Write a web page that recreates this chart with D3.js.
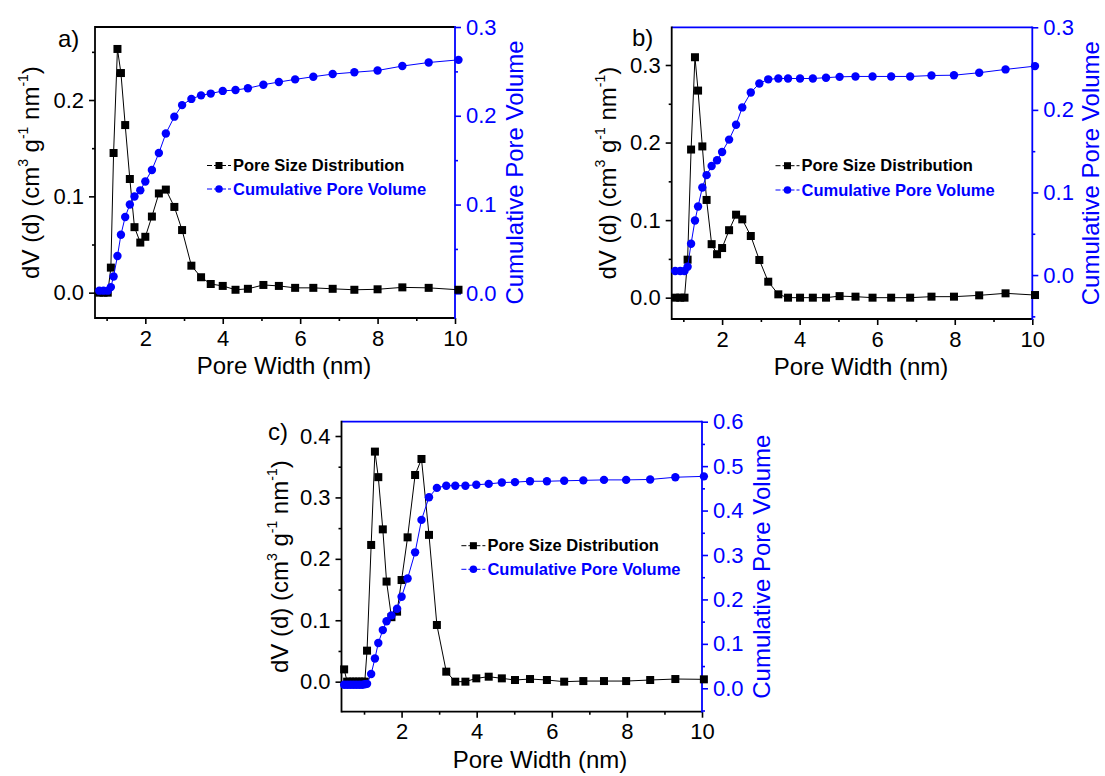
<!DOCTYPE html>
<html>
<head>
<meta charset="utf-8">
<script src="https://cdn.jsdelivr.net/npm/d3@7"></script>
<style>
  body { margin: 0; background: #fff; }
  svg { display: block; }
  text { font-family: Arial, "Liberation Sans", sans-serif; }
</style>
</head>
<body>
<svg id="chart" width="1105" height="776"></svg>
<script>
// pore size data (x in nm)

// panel a
const widthA = [0.81, 0.92, 1.03, 1.11, 1.18, 1.28, 1.37, 1.48, 1.60, 1.72, 1.87, 2.0, 2.17, 2.35, 2.53, 2.75, 2.95,
  3.19, 3.44, 3.69, 4.0, 4.33, 4.65, 5.05, 5.45, 5.87, 6.34, 6.84, 7.40, 8.0, 8.64, 9.32, 10.09];
const psdA = [0, 0, 0, 0.026, 0.145, 0.253, 0.228, 0.174, 0.118, 0.068, 0.052, 0.058, 0.079, 0.103, 0.107, 0.089, 0.065,
  0.028, 0.016, 0.009, 0.007, 0.003, 0.004, 0.008, 0.007, 0.005, 0.005, 0.004, 0.003, 0.0035, 0.0055, 0.005, 0.003];
const cumA = [0.003, 0.003, 0.003, 0.007, 0.019, 0.042, 0.066, 0.086, 0.100, 0.109, 0.116, 0.126, 0.139, 0.158, 0.180, 0.199, 0.212,
  0.219, 0.223, 0.225, 0.228, 0.229, 0.231, 0.235, 0.238, 0.241, 0.244, 0.247, 0.249, 0.251, 0.256, 0.260, 0.263];

// panel b
const widthB = [0.79, 0.92, 1.03, 1.11, 1.20, 1.30, 1.38, 1.49, 1.60, 1.73, 1.87, 2.0, 2.18, 2.36, 2.52, 2.74, 2.96,
  3.19, 3.45, 3.70, 4.01, 4.34, 4.68, 5.03, 5.44, 5.88, 6.36, 6.85, 7.40, 7.98, 8.63, 9.31, 10.07];
const psdB = [0, 0, 0, 0.049, 0.191, 0.310, 0.267, 0.195, 0.126, 0.069, 0.056, 0.064, 0.087, 0.107, 0.101, 0.0795, 0.0486,
  0.0206, 0.0043, 0, 0, 0, 0, 0.002, 0.0013, 0, 0, 0, 0.0013, 0.0013, 0.003, 0.0056, 0.0034];
const cumB = [0.005, 0.005, 0.005, 0.010, 0.038, 0.066, 0.083, 0.106, 0.121, 0.132, 0.139, 0.149, 0.164, 0.182, 0.203, 0.221, 0.232,
  0.237, 0.238, 0.238, 0.238, 0.238, 0.239, 0.240, 0.2405, 0.2405, 0.2405, 0.2405, 0.2416, 0.242, 0.245, 0.249, 0.253];

// panel c
const widthC = [0.47, 0.55, 0.63, 0.71, 0.79, 0.87, 0.95, 1.02, 1.08, 1.19, 1.29, 1.38, 1.50, 1.60, 1.73, 1.88, 2.0, 2.16,
  2.36, 2.53, 2.73, 2.94, 3.19, 3.43, 3.70, 3.99, 4.32, 4.67, 5.02, 5.42, 5.87, 6.33, 6.84, 7.39, 7.98, 8.62, 9.29, 10.05];
const psdC = [0.020, 0, 0, 0, 0, 0, 0, 0, 0.0505, 0.2226, 0.3746, 0.333, 0.248, 0.163, 0.105, 0.114, 0.1655, 0.235,
  0.3365, 0.3626, 0.239, 0.0923, 0.0163, 0, 0, 0.0054, 0.0081, 0.0054, 0.0027, 0.0043, 0.0027, 0, 0.001, 0.001, 0.001, 0.0027, 0.0043, 0.0038];
const cumC = [0.008, 0.008, 0.008, 0.008, 0.008, 0.008, 0.008, 0.009, 0.010, 0.032, 0.067, 0.102, 0.131, 0.151, 0.164, 0.179, 0.206, 0.247,
  0.306, 0.379, 0.430, 0.451, 0.456, 0.456, 0.456, 0.458, 0.460, 0.463, 0.464, 0.466, 0.466, 0.467, 0.468, 0.469, 0.469, 0.470, 0.475, 0.477];

// ticks
const xMajor = [2, 4, 6, 8, 10];
const xMinor = [1, 3, 5, 7, 9];
const seriesNames = ["Pore Size Distribution", "Cumulative Pore Volume"];
const BLUE = "#0000ff";

const svg = d3.select("#chart");

// layout of each panel (pixels measured on the reference)
const panels = [
  { label: "a)", w: widthA, psd: psdA, cum: cumA,
    l: 95, r: 455, t: 27, b: 318, xDom: [0.7, 10],
    yLDom: [-0.0263, 0.2758], yRDom: [-0.0278, 0.3],
    yLMajor: [0, 0.1, 0.2], yLMinor: [0.05, 0.15, 0.25],
    yRMajor: [0, 0.1, 0.2, 0.3], yRMinor: [0.05, 0.15, 0.25],
    topColor: "#000", lab: [58, 47], leg: [207, 165.5, 189],
    xTitleX: 284, yLTitleX: 39, yRTitleX: 523 },
  { label: "b)", w: widthB, psd: psdB, cum: cumB,
    l: 671.7, r: 1032.3, t: 27.3, b: 319, xDom: [0.7, 10],
    yLDom: [-0.0275, 0.3486], yRDom: [-0.0532, 0.3],
    yLMajor: [0, 0.1, 0.2, 0.3], yLMinor: [0.05, 0.15, 0.25],
    yRMajor: [0, 0.1, 0.2, 0.3], yRMinor: [-0.05, 0.05, 0.15, 0.25],
    topColor: BLUE, lab: [632, 46], leg: [775.5, 165.7, 190],
    xTitleX: 861, yLTitleX: 615.5, yRTitleX: 1099 },
  { label: "c)", w: widthC, psd: psdC, cum: cumC,
    l: 341.5, r: 702, t: 421.7, b: 711.7, xDom: [0.4, 10],
    yLDom: [-0.0489, 0.4233], yRDom: [-0.0527, 0.6],
    yLMajor: [0, 0.1, 0.2, 0.3, 0.4], yLMinor: [0.05, 0.15, 0.25, 0.35],
    yRMajor: [0, 0.1, 0.2, 0.3, 0.4, 0.5, 0.6], yRMinor: [-0.05, 0.05, 0.15, 0.25, 0.35, 0.45, 0.55],
    topColor: BLUE, lab: [268, 440], leg: [461.4, 545.7, 569.3],
    xTitleX: 540, yLTitleX: 288, yRTitleX: 770 }
];

function styleAxis(sel, color, fontSize) {
  sel.select(".domain").remove();
  sel.selectAll(".tick line").attr("stroke", color).attr("stroke-width", 1.6);
  sel.selectAll(".tick text").attr("fill", color).style("font-size", fontSize)
    .style("font-family", "Arial, 'Liberation Sans', sans-serif");
}

function drawPanel(p) {
  const g = svg.append("g");
  const x = d3.scaleLinear().domain(p.xDom).range([p.l, p.r]);
  const yL = d3.scaleLinear().domain(p.yLDom).range([p.b, p.t]);
  const yR = d3.scaleLinear().domain(p.yRDom).range([p.b, p.t]);
  const f1 = d3.format(".1f");

  // x axis
  g.append("g").attr("transform", `translate(0,${p.b})`)
    .call(d3.axisBottom(x).tickValues(xMajor).tickSize(6).tickSizeOuter(0).tickPadding(6).tickFormat(d3.format("d")))
    .call(s => styleAxis(s, "#000", "22px"));
  g.append("g").attr("transform", `translate(0,${p.b})`)
    .call(d3.axisBottom(x).tickValues(xMinor).tickSize(3).tickSizeOuter(0).tickFormat(""))
    .call(s => styleAxis(s, "#000", "22px"));

  // left axis
  g.append("g").attr("transform", `translate(${p.l},0)`)
    .call(d3.axisLeft(yL).tickValues(p.yLMajor).tickSize(6).tickSizeOuter(0).tickPadding(5).tickFormat(f1))
    .call(s => styleAxis(s, "#000", "22px"));
  g.append("g").attr("transform", `translate(${p.l},0)`)
    .call(d3.axisLeft(yL).tickValues(p.yLMinor).tickSize(3).tickSizeOuter(0).tickFormat(""))
    .call(s => styleAxis(s, "#000", "22px"));

  // right axis (blue)
  g.append("g").attr("transform", `translate(${p.r},0)`)
    .call(d3.axisRight(yR).tickValues(p.yRMajor).tickSize(6).tickSizeOuter(0).tickPadding(5).tickFormat(f1))
    .call(s => styleAxis(s, BLUE, "22px"));
  g.append("g").attr("transform", `translate(${p.r},0)`)
    .call(d3.axisRight(yR).tickValues(p.yRMinor).tickSize(3).tickSizeOuter(0).tickFormat(""))
    .call(s => styleAxis(s, BLUE, "22px"));

  // frame
  const sw = 1.8;
  g.append("line").attr("x1", p.l).attr("x2", p.r).attr("y1", p.t).attr("y2", p.t)
    .attr("stroke", p.topColor).attr("stroke-width", sw);
  g.append("line").attr("x1", p.l).attr("x2", p.l).attr("y1", p.t - sw / 2).attr("y2", p.b + sw / 2)
    .attr("stroke", "#000").attr("stroke-width", sw);
  g.append("line").attr("x1", p.l).attr("x2", p.r).attr("y1", p.b).attr("y2", p.b)
    .attr("stroke", "#000").attr("stroke-width", sw);
  g.append("line").attr("x1", p.r).attr("x2", p.r).attr("y1", p.t - sw / 2).attr("y2", p.b + sw / 2)
    .attr("stroke", BLUE).attr("stroke-width", sw);

  // pore size distribution (left axis)
  const psdPts = d3.zip(p.w, p.psd);
  g.append("path").datum(psdPts)
    .attr("fill", "none").attr("stroke", "#000").attr("stroke-width", 1)
    .attr("d", d3.line().x(d => x(d[0])).y(d => yL(d[1])));
  g.append("g").selectAll("rect").data(psdPts).join("rect")
    .attr("x", d => x(d[0]) - 4).attr("y", d => yL(d[1]) - 4)
    .attr("width", 8).attr("height", 8).attr("fill", "#000");

  // cumulative pore volume (right axis)
  const cumPts = d3.zip(p.w, p.cum);
  g.append("path").datum(cumPts)
    .attr("fill", "none").attr("stroke", BLUE).attr("stroke-width", 1)
    .attr("d", d3.line().x(d => x(d[0])).y(d => yR(d[1])));
  g.append("g").selectAll("circle").data(cumPts).join("circle")
    .attr("cx", d => x(d[0])).attr("cy", d => yR(d[1]))
    .attr("r", 4.2).attr("fill", BLUE);

  // legend
  const [lx, ly1, ly2] = p.leg;
  const lg = g.append("g");
  lg.append("line").attr("x1", lx).attr("x2", lx + 24).attr("y1", ly1).attr("y2", ly1)
    .attr("stroke", "#000").attr("stroke-width", 1).attr("stroke-dasharray", "5,2");
  lg.append("rect").attr("x", lx + 12 - 3.5).attr("y", ly1 - 3.5).attr("width", 7).attr("height", 7).attr("fill", "#000");
  lg.append("text").attr("x", lx + 26).attr("y", ly1).attr("dy", "0.35em")
    .style("font-size", "16.5px").style("font-weight", "bold").attr("fill", "#000").text(seriesNames[0]);
  lg.append("line").attr("x1", lx).attr("x2", lx + 24).attr("y1", ly2).attr("y2", ly2)
    .attr("stroke", BLUE).attr("stroke-width", 1).attr("stroke-dasharray", "5,2");
  lg.append("circle").attr("cx", lx + 12).attr("cy", ly2).attr("r", 3.8).attr("fill", BLUE);
  lg.append("text").attr("x", lx + 26).attr("y", ly2).attr("dy", "0.35em")
    .style("font-size", "16.5px").style("font-weight", "bold").attr("fill", BLUE).text(seriesNames[1]);

  // panel label
  g.append("text").attr("x", p.lab[0]).attr("y", p.lab[1])
    .style("font-size", "24px").attr("fill", "#000").text(p.label);

  // axis titles
  g.append("text").attr("x", p.xTitleX).attr("y", p.b + 56)
    .attr("text-anchor", "middle").style("font-size", "24px").attr("fill", "#000")
    .text("Pore Width (nm)");

  const cy = (p.t + p.b) / 2;
  const yt = g.append("text")
    .attr("transform", `translate(${p.yLTitleX},${cy}) rotate(-90)`)
    .attr("text-anchor", "middle").style("font-size", "24px").attr("fill", "#000");
  yt.append("tspan").text("dV (d) (cm");
  yt.append("tspan").attr("dy", -11).style("font-size", "14px").text("3");
  yt.append("tspan").attr("dy", 11).text(" g");
  yt.append("tspan").attr("dy", -11).style("font-size", "14px").text("-1");
  yt.append("tspan").attr("dy", 11).text(" nm");
  yt.append("tspan").attr("dy", -11).style("font-size", "14px").text("-1");
  yt.append("tspan").attr("dy", 11).text(")");

  g.append("text")
    .attr("transform", `translate(${p.yRTitleX},${cy}) rotate(-90)`)
    .attr("text-anchor", "middle").style("font-size", "24px").attr("fill", BLUE)
    .text("Cumulative Pore Volume");
}

panels.forEach(drawPanel);
</script>
</body>
</html>
